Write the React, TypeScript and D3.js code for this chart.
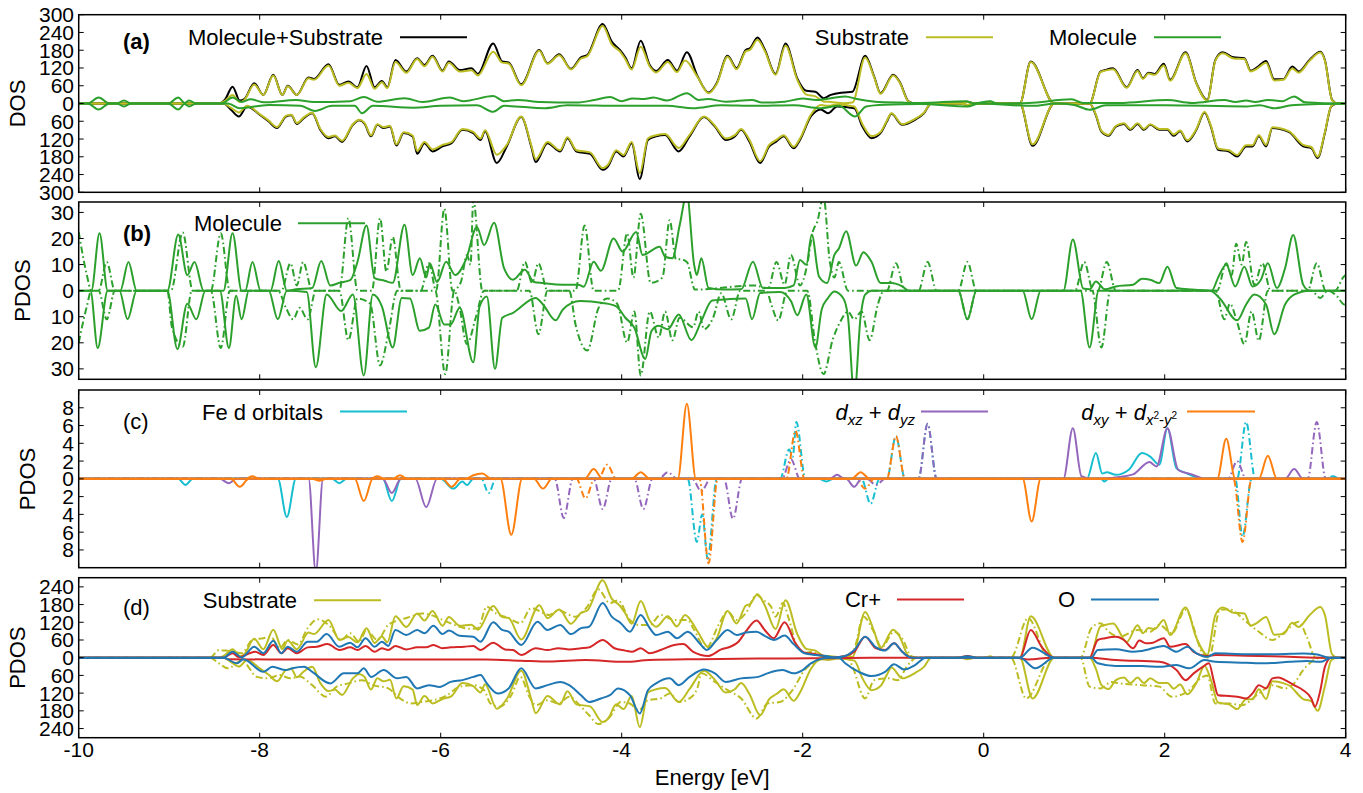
import React from 'react';
import * as d3 from 'd3';

type Pt = [number, number];

// ---- axis ticks ----
const energyTicks = [-10, -8, -6, -4, -2, 0, 2, 4];
const ticksA = [-300, -240, -180, -120, -60, 0, 60, 120, 180, 240, 300];
const ticksB = [-30, -20, -10, 0, 10, 20, 30];
const ticksC = [-8, -6, -4, -2, 0, 2, 4, 6, 8];
const ticksD = [-240, -180, -120, -60, 0, 60, 120, 180, 240];

// ---- panel (a): total / substrate / molecule DOS (spin down stored as magnitudes) ----
const totUp: Pt[] = [[-10,0],[-8.45,0],[-8.38,15],[-8.30,57],[-8.22,10],[-8.17,15],[-8.06,68],[-7.96,29],[-7.85,97],[-7.75,29],[-7.69,60],[-7.59,29],[-7.46,88],[-7.40,83],[-7.24,133],[-7.12,63],[-7.02,74],[-6.92,55],[-6.82,127],[-6.73,55],[-6.65,76],[-6.59,55],[-6.50,147],[-6.38,108],[-6.26,153],[-6.18,130],[-6.09,161],[-5.98,111],[-5.91,142],[-5.79,113],[-5.66,119],[-5.59,100],[-5.42,203],[-5.32,142],[-5.25,139],[-5.11,65],[-4.91,181],[-4.82,136],[-4.69,166],[-4.56,117],[-4.45,156],[-4.38,164],[-4.21,269],[-4.11,209],[-4.02,181],[-3.96,156],[-3.89,119],[-3.79,212],[-3.69,130],[-3.62,110],[-3.49,147],[-3.39,111],[-3.28,173],[-3.16,91],[-3.04,37],[-2.95,69],[-2.83,161],[-2.73,119],[-2.63,181],[-2.58,187],[-2.50,223],[-2.42,183],[-2.30,100],[-2.19,203],[-2.06,85],[-1.96,43],[-1.86,40],[-1.77,18],[-1.69,29],[-1.55,37],[-1.45,40],[-1.31,161],[-1.21,91],[-1.14,35],[-1.0,97],[-0.93,74],[-0.83,7],[-0.76,0],[-0.25,0],[-0.18,6],[-0.1,0],[0.02,0],[0.07,6],[0.12,0],[0.40,0],[0.52,142],[0.78,0],[1.17,0],[1.29,108],[1.34,113],[1.43,119],[1.58,55],[1.70,113],[1.76,85],[1.82,104],[1.89,100],[1.99,134],[2.06,80],[2.23,173],[2.35,69],[2.47,12],[2.56,147],[2.64,173],[2.76,156],[2.88,153],[2.95,111],[3.02,122],[3.12,144],[3.21,82],[3.31,82],[3.41,125],[3.48,108],[3.60,147],[3.72,175],[3.77,147],[3.85,12],[3.91,0],[4,0]];
const totDn: Pt[] = [[-10,0],[-8.40,0],[-8.32,20],[-8.23,44],[-8.14,10],[-8.0,38],[-7.9,61],[-7.81,83],[-7.71,44],[-7.65,40],[-7.59,69],[-7.51,49],[-7.42,33],[-7.33,89],[-7.24,117],[-7.17,111],[-7.09,130],[-6.97,72],[-6.90,57],[-6.84,69],[-6.77,111],[-6.70,72],[-6.63,83],[-6.56,78],[-6.49,142],[-6.41,100],[-6.31,111],[-6.26,170],[-6.18,134],[-6.09,162],[-5.98,145],[-5.88,134],[-5.76,89],[-5.64,100],[-5.56,123],[-5.51,94],[-5.38,201],[-5.27,145],[-5.11,46],[-5.0,145],[-4.95,198],[-4.82,134],[-4.68,162],[-4.60,117],[-4.50,162],[-4.35,170],[-4.21,224],[-4.15,212],[-4.06,162],[-3.98,179],[-3.89,134],[-3.80,255],[-3.71,123],[-3.62,111],[-3.52,106],[-3.37,162],[-3.25,111],[-3.09,46],[-2.97,78],[-2.85,123],[-2.75,111],[-2.68,89],[-2.59,128],[-2.47,201],[-2.37,145],[-2.29,128],[-2.21,111],[-2.1,151],[-2.03,123],[-1.91,44],[-1.80,20],[-1.72,33],[-1.62,10],[-1.43,16],[-1.34,78],[-1.24,117],[-1.14,100],[-1.07,61],[-1.02,35],[-0.90,72],[-0.76,55],[-0.66,33],[-0.58,0],[-0.25,0],[-0.18,6],[-0.1,0],[0.40,0],[0.54,143],[0.78,0],[1.17,0],[1.24,40],[1.30,95],[1.38,109],[1.46,78],[1.55,69],[1.62,89],[1.70,69],[1.77,89],[1.84,72],[1.94,89],[2.03,89],[2.10,109],[2.17,94],[2.25,128],[2.35,89],[2.44,30],[2.51,78],[2.59,156],[2.71,162],[2.80,179],[2.90,145],[2.97,145],[3.04,111],[3.12,145],[3.19,83],[3.31,89],[3.38,98],[3.53,145],[3.62,151],[3.69,184],[3.77,100],[3.84,10],[3.91,0],[4,0]];
const subUp: Pt[] = [[-10,0],[-8.45,0],[-8.38,10],[-8.30,29],[-8.22,5],[-8.17,12],[-8.06,64],[-7.96,29],[-7.85,95],[-7.75,29],[-7.69,58],[-7.59,29],[-7.46,85],[-7.40,80],[-7.24,128],[-7.12,60],[-7.02,70],[-6.92,52],[-6.82,100],[-6.73,50],[-6.65,72],[-6.59,52],[-6.50,140],[-6.38,104],[-6.26,150],[-6.18,126],[-6.09,158],[-5.98,108],[-5.91,138],[-5.79,108],[-5.66,112],[-5.59,95],[-5.42,175],[-5.32,138],[-5.25,135],[-5.11,62],[-4.91,178],[-4.82,134],[-4.69,163],[-4.56,115],[-4.45,152],[-4.38,160],[-4.21,262],[-4.11,200],[-4.02,176],[-3.96,150],[-3.89,115],[-3.79,192],[-3.69,125],[-3.62,105],[-3.49,140],[-3.39,106],[-3.30,145],[-3.16,88],[-3.04,35],[-2.95,66],[-2.83,158],[-2.73,116],[-2.63,176],[-2.58,182],[-2.50,215],[-2.42,178],[-2.30,97],[-2.19,195],[-2.06,80],[-1.96,30],[-1.86,24],[-1.77,7],[-1.69,5],[-1.55,1],[-1.45,3],[-1.31,155],[-1.21,88],[-1.14,33],[-1.0,95],[-0.93,72],[-0.83,6],[-0.76,0],[-0.25,0],[-0.18,5],[-0.1,0],[0.02,0],[0.07,5],[0.12,0],[0.40,0],[0.52,140],[0.78,0],[1.17,0],[1.29,106],[1.34,111],[1.43,116],[1.58,53],[1.70,110],[1.76,83],[1.82,101],[1.89,97],[1.99,128],[2.06,77],[2.23,170],[2.35,67],[2.47,10],[2.56,145],[2.64,170],[2.76,152],[2.88,150],[2.95,108],[3.02,118],[3.12,138],[3.21,78],[3.31,80],[3.41,118],[3.48,104],[3.60,144],[3.72,172],[3.77,145],[3.85,11],[3.91,0],[4,0]];
const subDn: Pt[] = [[-10,0],[-8.40,0],[-8.32,14],[-8.23,30],[-8.14,8],[-8.0,36],[-7.9,58],[-7.81,80],[-7.71,42],[-7.65,38],[-7.59,66],[-7.51,46],[-7.42,31],[-7.33,86],[-7.24,113],[-7.17,108],[-7.09,126],[-6.97,70],[-6.90,55],[-6.84,66],[-6.77,108],[-6.70,70],[-6.63,80],[-6.56,75],[-6.49,138],[-6.41,97],[-6.31,108],[-6.26,160],[-6.18,130],[-6.09,155],[-5.98,140],[-5.88,130],[-5.76,86],[-5.64,96],[-5.56,118],[-5.51,90],[-5.38,173],[-5.27,140],[-5.11,44],[-5.0,140],[-4.95,188],[-4.82,130],[-4.68,158],[-4.60,114],[-4.50,158],[-4.35,165],[-4.21,218],[-4.15,206],[-4.06,158],[-3.98,174],[-3.89,130],[-3.80,235],[-3.71,118],[-3.62,107],[-3.52,103],[-3.37,150],[-3.25,106],[-3.09,44],[-2.97,75],[-2.85,118],[-2.75,107],[-2.68,86],[-2.59,122],[-2.47,195],[-2.37,140],[-2.29,123],[-2.21,107],[-2.1,146],[-2.03,118],[-1.91,38],[-1.80,5],[-1.72,8],[-1.62,3],[-1.43,10],[-1.34,70],[-1.24,110],[-1.14,96],[-1.07,58],[-1.02,33],[-0.90,70],[-0.76,52],[-0.66,31],[-0.58,0],[-0.25,0],[-0.18,5],[-0.1,0],[0.40,0],[0.54,138],[0.78,0],[1.17,0],[1.24,38],[1.30,92],[1.38,106],[1.46,76],[1.55,67],[1.62,86],[1.70,67],[1.77,86],[1.84,70],[1.94,86],[2.03,86],[2.10,105],[2.17,91],[2.25,124],[2.35,86],[2.44,28],[2.51,75],[2.59,152],[2.71,158],[2.80,174],[2.90,141],[2.97,141],[3.04,107],[3.12,140],[3.19,80],[3.31,86],[3.38,95],[3.53,140],[3.62,147],[3.69,180],[3.77,97],[3.84,9],[3.91,0],[4,0]];
const molUp: Pt[] = [[-10,0],[-9.90,0],[-9.78,20],[-9.66,0],[-9.58,0],[-9.5,10],[-9.42,0],[-9.01,0],[-8.9,20],[-8.83,2],[-8.78,10],[-8.70,0],[-8.42,0],[-8.3,20],[-8.2,5],[-8.1,14],[-7.95,4],[-7.6,12],[-7.4,5],[-7.0,8],[-6.85,22],[-6.7,6],[-6.4,18],[-6.2,5],[-5.9,20],[-5.75,8],[-5.42,25],[-5.3,8],[-5.15,12],[-4.9,5],[-4.5,3],[-4.3,12],[-4.13,22],[-4.0,8],[-3.88,17],[-3.75,15],[-3.65,20],[-3.5,10],[-3.28,35],[-3.15,12],[-3.05,15],[-2.85,6],[-2.56,12],[-2.45,3],[-2.2,6],[-2.0,17],[-1.85,12],[-1.53,24],[-1.40,15],[-1.2,6],[-0.9,3],[-0.7,2],[-0.2,8],[-0.1,0],[0.07,8],[0.15,0],[0.5,2],[0.97,14],[1.1,2],[1.5,2],[2.03,12],[2.3,2],[2.66,12],[2.78,5],[2.90,10],[3.0,5],[3.14,12],[3.3,8],[3.43,24],[3.55,4],[3.7,2],[4,0]];
const molDn: Pt[] = [[-10,0],[-9.90,0],[-9.78,20],[-9.66,0],[-9.58,0],[-9.5,10],[-9.42,0],[-9.01,0],[-8.9,20],[-8.83,2],[-8.78,10],[-8.70,0],[-8.35,0],[-8.22,16],[-7.9,5],[-7.55,8],[-7.39,25],[-7.2,8],[-6.95,8],[-6.87,33],[-6.75,8],[-6.3,14],[-6.0,8],[-5.6,6],[-5.42,28],[-5.3,8],[-4.85,16],[-4.6,6],[-4.0,8],[-3.5,8],[-3.21,16],[-2.9,6],[-2.54,8],[-2.1,6],[-1.8,16],[-1.6,8],[-1.42,44],[-1.30,10],[-1.1,4],[-0.7,2],[-0.18,10],[-0.05,0],[0.54,8],[0.8,0],[1.0,5],[1.17,21],[1.35,6],[2.0,6],[2.9,10],[3.05,6],[3.21,16],[3.4,6],[3.7,2],[4,0]];

// ---- panel (b): molecule PDOS, solid and dash-dot ----
const bSolUp: Pt[] = [[-10,0],[-9.86,0],[-9.77,22],[-9.68,0],[-9.54,0],[-9.45,11],[-9.36,0],[-9.02,0],[-8.90,21.5],[-8.80,6],[-8.72,11],[-8.62,0],[-8.40,0],[-8.30,22],[-8.20,0],[-8.16,0],[-8.08,11],[-7.99,0],[-7.88,0],[-7.79,11.4],[-7.70,0],[-7.6,0.5],[-7.42,1],[-7.32,11.4],[-7.22,2],[-7.12,3],[-7.0,4],[-6.92,11],[-6.82,25],[-6.73,4.8],[-6.62,3.8],[-6.53,3],[-6.40,25.3],[-6.31,6],[-6.23,12.4],[-6.16,5],[-6.12,10.5],[-6.04,3.3],[-5.94,11.1],[-5.84,6],[-5.72,12],[-5.60,24.4],[-5.52,17.5],[-5.41,26],[-5.30,8.6],[-5.20,4.2],[-5.07,8],[-4.97,3.3],[-4.87,2.9],[-4.65,2.3],[-4.48,2.3],[-4.42,1.5],[-4.31,11.1],[-4.23,7.6],[-4.09,20],[-3.99,15],[-3.84,22.5],[-3.77,13.7],[-3.58,16.8],[-3.52,13],[-3.44,12.4],[-3.36,25],[-3.28,37],[-3.20,10],[-3.17,6],[-3.12,12.4],[-3.04,1],[-2.87,0.4],[-2.68,0.5],[-2.55,11.1],[-2.44,1],[-2.20,1],[-2.10,2],[-2.03,11.8],[-1.96,9.9],[-1.90,21.5],[-1.82,5.4],[-1.73,2.9],[-1.65,13.7],[-1.60,16.2],[-1.52,22.8],[-1.41,9.6],[-1.33,14.7],[-1.24,11.1],[-1.14,2.9],[-1.02,2.9],[-0.90,1.6],[-0.83,0],[0.88,0],[0.985,19.6],[1.1,0.8],[1.17,0.5],[1.24,3.5],[1.34,0.5],[1.46,1.6],[1.65,2.3],[1.75,4.6],[1.84,4.2],[1.94,2.9],[2.03,9.2],[2.13,1],[2.3,0.4],[2.52,0],[2.59,5],[2.68,9.9],[2.78,1.6],[2.88,9.2],[2.97,1.6],[3.06,4],[3.14,10.5],[3.24,1],[3.33,8.6],[3.42,21.3],[3.53,2.3],[3.60,0],[4,0]];
const bSolDn: Pt[] = [[-10,0],[-9.87,0],[-9.79,22],[-9.68,0],[-9.55,0],[-9.46,11],[-9.36,0],[-9.02,0],[-8.91,22.4],[-8.80,5],[-8.70,11],[-8.60,0],[-8.44,0],[-8.34,22],[-8.26,2],[-8.20,11],[-8.12,0],[-7.90,0],[-7.80,11],[-7.70,0],[-7.48,0.5],[-7.38,29.4],[-7.26,1.5],[-7.10,7.8],[-6.97,1.5],[-6.85,32.5],[-6.75,1.5],[-6.65,6],[-6.53,21.8],[-6.43,2.8],[-6.34,3],[-6.23,15.4],[-6.13,14.2],[-6.06,5.3],[-5.96,13],[-5.89,13],[-5.79,6.6],[-5.64,27.5],[-5.57,6],[-5.49,2.2],[-5.40,30],[-5.32,10.4],[-5.20,8.5],[-4.95,2.8],[-4.87,5.3],[-4.73,11.4],[-4.65,7.2],[-4.46,4],[-4.21,4.7],[-4.06,6],[-3.96,10.4],[-3.86,14.2],[-3.74,26.2],[-3.67,15.4],[-3.59,13.5],[-3.49,14.8],[-3.37,9.1],[-3.23,19],[-3.12,11.6],[-3.0,3.8],[-2.87,3.4],[-2.63,3],[-2.56,11],[-2.47,0.9],[-2.25,0.5],[-2.13,4],[-2.06,9.4],[-1.96,1.5],[-1.86,21.8],[-1.79,7.2],[-1.72,2.8],[-1.65,0.3],[-1.55,3],[-1.50,10],[-1.43,40],[-1.36,10],[-1.31,1.5],[-1.24,0],[-0.28,0],[-0.18,11],[-0.08,0],[0.43,0],[0.53,11],[0.63,0],[1.07,0],[1.17,21.8],[1.27,0],[2.50,0],[2.61,3],[2.80,11.4],[2.90,5.3],[2.99,1.5],[3.12,5.3],[3.21,16.7],[3.33,5.3],[3.43,1.5],[3.60,0],[4,0]];
const bDashUp: Pt[] = [[-10,22.5],[-9.91,6],[-9.86,0],[-9.78,0],[-9.69,11],[-9.60,0],[-8.98,0],[-8.85,22.3],[-8.74,0],[-8.54,0],[-8.43,22],[-8.33,0],[-7.76,0],[-7.66,10.5],[-7.59,2],[-7.52,11],[-7.42,0],[-7.12,0],[-7.02,27.8],[-6.92,0],[-6.76,0],[-6.67,27.8],[-6.60,7.3],[-6.53,20.6],[-6.44,0],[-6.22,0],[-6.13,10.5],[-6.05,0],[-5.96,31.4],[-5.87,0],[-5.78,3],[-5.71,13.7],[-5.67,10],[-5.64,35],[-5.54,0],[-5.16,0],[-5.07,11],[-4.99,3],[-4.92,10.5],[-4.82,0],[-4.51,0],[-4.41,25],[-4.31,0],[-4.04,0],[-3.94,22],[-3.87,5],[-3.79,29.5],[-3.68,3],[-3.55,5],[-3.47,27],[-3.40,12],[-3.35,12],[-3.28,11],[-3.19,0.4],[-2.54,2],[-2.38,1],[-2.29,11],[-2.20,2.3],[-2.13,13.7],[-2.03,2],[-1.95,10],[-1.89,22.5],[-1.84,26.3],[-1.77,36],[-1.70,11],[-1.65,5],[-1.60,11],[-1.50,0],[-1.07,0],[-0.97,10.5],[-0.87,0],[-0.72,0],[-0.62,11],[-0.52,0],[-0.28,0],[-0.18,11],[-0.08,0],[1.01,0],[1.11,11],[1.21,0],[1.26,0],[1.36,11],[1.46,0],[2.58,0],[2.68,10.5],[2.74,6],[2.79,18],[2.85,10],[2.90,18.7],[2.99,2.3],[3.08,10.5],[3.17,0],[3.58,0],[3.68,10.5],[3.78,0],[3.88,0],[3.98,5.4],[4,6]];
const bDashDn: Pt[] = [[-10,20],[-9.91,6],[-9.86,0],[-9.78,0],[-9.69,11],[-9.60,0],[-9.02,0],[-8.97,14],[-8.85,21.5],[-8.75,0],[-8.54,0],[-8.43,22],[-8.33,0],[-7.80,0],[-7.71,6.6],[-7.63,11],[-7.56,6.6],[-7.47,11],[-7.38,0],[-7.12,0],[-7.02,19],[-6.92,3],[-6.78,5],[-6.67,28.7],[-6.58,16.7],[-6.48,0],[-6.06,0],[-5.95,32],[-5.85,0],[-5.80,5],[-5.71,20.5],[-5.61,10],[-5.52,0],[-5.02,0],[-4.92,16.7],[-4.82,0],[-4.58,0],[-4.51,13],[-4.38,23],[-4.26,7],[-4.16,3],[-4.05,5],[-3.94,19.9],[-3.86,8],[-3.79,32.5],[-3.69,8],[-3.59,18],[-3.52,8],[-3.44,19],[-3.36,10.4],[-3.21,14],[-3.15,8],[-3.09,14.8],[-2.99,10.4],[-2.90,1],[-2.79,11],[-2.69,0],[-2.40,0],[-2.35,5],[-2.27,11.4],[-2.17,0],[-1.95,0],[-1.86,20.5],[-1.77,32],[-1.67,19],[-1.58,11.6],[-1.50,8],[-1.43,11],[-1.35,8],[-1.26,19],[-1.17,5.3],[-1.10,0],[-0.28,0],[-0.18,11],[-0.08,0],[1.20,0],[1.30,21.8],[1.40,0],[2.56,0],[2.66,11],[2.72,5],[2.80,12],[2.88,20.5],[2.96,8],[3.04,19.2],[3.14,0],[3.62,0],[3.72,2.8],[3.80,0],[3.90,2],[3.98,5.3],[4,5.5]];

// ---- panel (c): Fe d orbitals ----
const feUp: Pt[] = [[-10,0],[1.14,0],[1.24,2.9],[1.31,0.6],[1.36,0.75],[1.46,0.45],[1.6,1.0],[1.75,2.9],[1.84,2.5],[1.94,1.6],[2.03,5.7],[2.13,1.2],[2.25,0.6],[2.42,0],[4,0]];
const feDn: Pt[] = [[-10,0],[-8.9,0],[-8.82,0.7],[-8.74,0],[-7.80,0],[-7.70,4.3],[-7.60,0],[-7.2,0],[-7.12,0.5],[-7.04,0],[-6.64,0],[-6.54,2.5],[-6.44,0],[-6.0,0],[-5.86,1.1],[-5.76,0.3],[-5.71,0.7],[-5.64,0],[-1.82,0],[-1.74,0.3],[-1.66,0],[1.30,0],[1.33,0.3],[1.38,0],[4,0]];
const xzUp: Pt[] = [[-10,0],[-1.70,0],[-1.62,0.45],[-1.54,0],[0.88,0],[0.985,5.7],[1.08,0.3],[1.2,0],[1.4,0.1],[1.65,0.5],[1.83,1.9],[1.91,1.4],[2.03,5.7],[2.15,1.0],[2.30,0.5],[2.45,0],[3.33,0],[3.43,1.1],[3.53,0],[4,0]];
const xzDn: Pt[] = [[-10,0],[-8.44,0],[-8.34,0.5],[-8.26,0],[-7.46,0],[-7.38,10.5],[-7.30,0],[-6.64,0],[-6.54,1.6],[-6.44,0],[-6.28,0],[-6.16,3.2],[-6.04,0],[-1.52,0],[-1.43,0.9],[-1.35,0],[4,0]];
const xyUp: Pt[] = [[-10,0],[-8.16,0],[-8.08,0.3],[-8.0,0],[-6.78,0],[-6.70,0.3],[-6.62,0],[-6.53,0],[-6.45,0.4],[-6.37,0],[-5.72,0],[-5.64,0.4],[-5.54,0.6],[-5.44,0],[-4.41,0],[-4.31,1.1],[-4.21,0],[-3.89,0],[-3.79,0.75],[-3.69,0],[-3.38,0],[-3.28,8.45],[-3.18,0],[-1.46,0],[-1.36,0.75],[-1.26,0],[2.58,0],[2.68,4.5],[2.78,0],[3.04,0],[3.14,2.6],[3.24,0],[4,0]];
const xyDn: Pt[] = [[-10,0],[-8.32,0],[-8.22,0.9],[-8.12,0],[-7.42,0],[-7.34,0.2],[-7.26,0],[-6.95,0],[-6.85,2.5],[-6.75,0],[-5.98,0],[-5.88,0.9],[-5.78,0],[-5.34,0],[-5.22,6.3],[-5.10,0],[-4.97,0],[-4.87,1.1],[-4.77,0],[0.43,0],[0.53,4.8],[0.63,0],[4,0]];
const feDashUp: Pt[] = [[-10,0],[-2.25,0],[-2.15,3.3],[-2.11,2.5],[-2.07,6.4],[-1.97,0],[-1.07,0],[-0.97,4.8],[-0.87,0],[-0.72,0],[-0.62,6.2],[-0.52,0],[2.80,0],[2.90,6.4],[3.0,0],[3.78,0],[3.86,0.3],[3.94,0],[4,0]];
const feDashDn: Pt[] = [[-10,0],[-5.55,0],[-5.47,1.6],[-5.39,0],[-3.27,0],[-3.17,7.1],[-3.11,4],[-3.05,9],[-2.95,0],[-1.35,0],[-1.25,2.8],[-1.15,0],[2.78,0],[2.86,6.5],[2.96,0],[4,0]];
const xzDashUp: Pt[] = [[-10,0],[-3.59,0],[-3.49,0.75],[-3.39,0],[-2.23,0],[-2.13,2.2],[-2.03,0],[-0.72,0],[-0.62,6.2],[-0.52,0],[2.70,0],[2.80,2.0],[2.90,0],[3.58,0],[3.68,6.4],[3.78,0],[4,0]];
const xzDashDn: Pt[] = [[-10,0],[-4.74,0],[-4.64,4.4],[-4.54,0],[-4.31,0],[-4.21,3.4],[-4.11,0],[-3.86,0],[-3.76,3.4],[-3.66,0],[-3.22,0],[-3.12,1.4],[-3.02,0],[-2.87,0],[-2.77,4.5],[-2.67,0],[-1.29,0],[-1.19,0.7],[-1.09,0],[4,0]];
const xyDashUp: Pt[] = [[-10,0],[-4.26,0],[-4.16,1.6],[-4.06,0],[-2.18,0],[-2.08,5.4],[-1.98,0],[-1.07,0],[-0.97,4.8],[-0.87,0],[4,0]];
const xyDashDn: Pt[] = [[-10,0],[-4.50,0],[-4.40,2.2],[-4.30,0],[-3.14,0],[-3.04,9.5],[-2.94,0],[-1.41,0],[-1.31,1.1],[-1.21,0],[2.76,0],[2.86,7.1],[2.96,0],[4,0]];

// ---- panel (d): substrate (solid = subUp/subDn), substrate dash-dot, Cr+, O ----
const sDashUp: Pt[] = [[-10,0],[-8.55,0],[-8.45,26],[-8.37,24],[-8.28,20],[-8.2,15],[-8.08,60],[-7.96,66],[-7.88,71],[-7.78,32],[-7.69,60],[-7.58,45],[-7.47,100],[-7.36,130],[-7.22,105],[-7.10,60],[-7.0,83],[-6.90,54],[-6.82,94],[-6.70,60],[-6.58,111],[-6.45,128],[-6.33,139],[-6.21,150],[-6.11,145],[-5.98,128],[-5.79,105],[-5.69,98],[-5.59,100],[-5.49,173],[-5.39,150],[-5.25,134],[-5.12,117],[-5.0,168],[-4.80,145],[-4.70,160],[-4.51,139],[-4.38,173],[-4.26,232],[-4.13,185],[-4.04,194],[-3.91,128],[-3.81,111],[-3.69,111],[-3.57,145],[-3.42,128],[-3.27,128],[-3.21,100],[-3.07,32],[-2.92,117],[-2.83,156],[-2.73,128],[-2.63,150],[-2.51,213],[-2.44,196],[-2.35,173],[-2.30,139],[-2.22,185],[-2.15,128],[-2.06,37],[-1.96,17],[-1.89,20],[-1.81,6],[-1.72,0],[-1.53,1],[-1.43,30],[-1.33,139],[-1.21,85],[-1.13,35],[-0.99,88],[-0.90,65],[-0.80,5],[-0.74,0],[0.30,0],[0.49,134],[0.72,0],[1.07,0],[1.19,100],[1.29,117],[1.38,88],[1.50,71],[1.70,94],[1.84,88],[1.94,111],[2.08,83],[2.23,162],[2.42,15],[2.49,0],[2.61,162],[2.71,164],[2.90,122],[3.04,88],[3.19,60],[3.33,88],[3.48,122],[3.57,71],[3.67,0],[4,0]];
const sDashDn: Pt[] = [[-10,0],[-8.55,0],[-8.45,19],[-8.35,36],[-8.2,10],[-8.03,65],[-7.91,70],[-7.78,59],[-7.66,70],[-7.56,64],[-7.42,93],[-7.27,132],[-7.15,98],[-7.02,87],[-6.87,76],[-6.75,93],[-6.58,104],[-6.45,138],[-6.33,155],[-6.21,150],[-6.08,144],[-5.93,127],[-5.79,98],[-5.64,93],[-5.52,110],[-5.45,155],[-5.35,166],[-5.22,127],[-5.12,65],[-5.02,132],[-4.95,161],[-4.82,144],[-4.70,155],[-4.58,132],[-4.45,166],[-4.36,195],[-4.26,225],[-4.13,200],[-4.01,150],[-3.91,155],[-3.81,178],[-3.71,144],[-3.57,138],[-3.47,121],[-3.37,150],[-3.25,138],[-3.16,100],[-3.12,53],[-2.97,82],[-2.83,110],[-2.68,138],[-2.51,206],[-2.39,155],[-2.25,150],[-2.10,104],[-1.98,42],[-1.86,14],[-1.72,0],[-1.50,0],[-1.45,30],[-1.31,138],[-1.21,76],[-1.05,70],[-0.95,76],[-0.85,30],[-0.74,0],[0.30,0],[0.47,138],[0.71,8],[0.74,0],[1.07,0],[1.17,98],[1.29,104],[1.41,82],[1.50,87],[1.75,93],[1.94,98],[2.08,132],[2.25,115],[2.42,65],[2.47,60],[2.56,155],[2.71,155],[2.85,161],[3.04,121],[3.19,93],[3.33,104],[3.43,87],[3.53,42],[3.62,14],[3.72,0],[4,0]];
const crUp: Pt[] = [[-10,0],[-8.40,0],[-8.30,15],[-8.23,2],[-8.05,20],[-7.96,9],[-7.85,43],[-7.76,15],[-7.69,32],[-7.59,15],[-7.47,35],[-7.37,37],[-7.25,46],[-7.12,26],[-7.0,35],[-6.92,26],[-6.83,40],[-6.73,20],[-6.65,32],[-6.58,26],[-6.50,40],[-6.38,28],[-6.26,35],[-6.16,35],[-6.08,43],[-5.98,32],[-5.89,35],[-5.74,37],[-5.64,40],[-5.56,26],[-5.42,51],[-5.29,28],[-5.20,26],[-5.11,9],[-4.95,32],[-4.82,26],[-4.70,32],[-4.58,28],[-4.45,32],[-4.36,35],[-4.21,60],[-4.08,32],[-3.96,24],[-3.89,20],[-3.79,32],[-3.69,15],[-3.57,26],[-3.42,43],[-3.32,46],[-3.21,20],[-3.04,6],[-2.90,28],[-2.80,37],[-2.71,54],[-2.63,88],[-2.51,126],[-2.42,94],[-2.32,66],[-2.20,120],[-2.08,49],[-1.98,17],[-1.86,12],[-1.77,6],[-1.67,1],[-1.53,6],[-1.43,20],[-1.31,71],[-1.19,32],[-1.09,26],[-0.99,49],[-0.90,20],[-0.81,1],[-0.76,0],[-0.28,0],[-0.18,6],[-0.08,0],[0.40,0],[0.52,94],[0.64,37],[0.78,0],[1.17,0],[1.26,60],[1.34,66],[1.46,71],[1.55,60],[1.65,32],[1.72,58],[1.79,49],[1.87,51],[1.99,66],[2.06,37],[2.23,46],[2.32,20],[2.47,6],[2.56,9],[2.90,7],[3.38,3],[3.77,0],[4,0]];
const crDn: Pt[] = [[-10,0],[-8.40,0],[-8.35,5],[-7.9,6],[-5.5,6],[-5.11,10],[-4.8,13],[-4.4,8],[-3.96,14],[-3.7,8],[-3.13,5],[-2.5,3],[-1.9,2],[-1.5,1],[-0.7,0],[0.35,0],[0.49,6],[0.75,0],[1.17,0],[1.46,8],[1.94,14],[2.13,42],[2.23,76],[2.32,53],[2.42,31],[2.49,19],[2.54,76],[2.59,127],[2.71,130],[2.80,132],[2.90,138],[2.97,121],[3.04,93],[3.12,104],[3.19,70],[3.26,67],[3.33,76],[3.43,93],[3.53,110],[3.62,138],[3.66,166],[3.72,110],[3.77,31],[3.84,0],[4,0]];
const oUp: Pt[] = [[-10,0],[-8.40,0],[-8.30,20],[-8.20,1],[-8.06,37],[-7.96,15],[-7.85,57],[-7.76,15],[-7.69,37],[-7.59,20],[-7.47,54],[-7.37,54],[-7.26,80],[-7.12,37],[-7.0,51],[-6.92,35],[-6.83,66],[-6.73,37],[-6.65,54],[-6.58,40],[-6.50,94],[-6.38,77],[-6.26,94],[-6.18,83],[-6.08,108],[-5.98,80],[-5.91,92],[-5.79,74],[-5.64,71],[-5.56,54],[-5.42,120],[-5.32,94],[-5.25,88],[-5.11,43],[-4.93,122],[-4.82,94],[-4.68,111],[-4.56,80],[-4.45,100],[-4.36,105],[-4.21,185],[-4.11,139],[-4.01,117],[-3.91,88],[-3.79,145],[-3.69,100],[-3.62,77],[-3.49,88],[-3.39,66],[-3.27,88],[-3.14,49],[-3.06,26],[-2.95,60],[-2.83,94],[-2.73,77],[-2.63,85],[-2.51,88],[-2.42,74],[-2.32,60],[-2.20,75],[-2.10,46],[-1.98,15],[-1.86,9],[-1.74,6],[-1.65,1],[-1.53,6],[-1.43,26],[-1.31,71],[-1.19,35],[-1.09,24],[-0.99,49],[-0.90,20],[-0.81,1],[-0.76,0],[-0.28,0],[-0.18,5],[-0.08,0],[0.40,0],[0.54,34],[0.78,0],[1.19,0],[1.26,26],[1.46,29],[1.65,20],[1.75,23],[1.99,40],[2.13,20],[2.25,37],[2.35,15],[2.47,3],[2.56,15],[2.90,12],[3.24,12],[3.53,14],[3.67,12],[3.82,0],[4,0]];
const oDn: Pt[] = [[-10,0],[-8.40,0],[-8.25,19],[-8.18,5],[-7.96,48],[-7.86,31],[-7.71,42],[-7.64,36],[-7.51,31],[-7.42,48],[-7.22,87],[-7.07,53],[-6.92,53],[-6.85,36],[-6.77,65],[-6.63,42],[-6.48,70],[-6.38,65],[-6.26,104],[-6.13,93],[-6.01,99],[-5.89,82],[-5.76,76],[-5.64,65],[-5.56,59],[-5.49,87],[-5.37,121],[-5.25,104],[-5.11,36],[-4.95,104],[-4.82,93],[-4.68,82],[-4.58,93],[-4.45,127],[-4.36,150],[-4.23,138],[-4.13,127],[-4.04,104],[-3.91,127],[-3.80,189],[-3.71,110],[-3.62,87],[-3.47,70],[-3.37,93],[-3.25,65],[-3.09,40],[-2.97,53],[-2.85,82],[-2.68,70],[-2.49,65],[-2.39,53],[-2.22,42],[-2.10,53],[-2.0,42],[-1.91,19],[-1.77,2],[-1.70,0],[-1.60,0],[-1.53,19],[-1.38,48],[-1.24,62],[-1.09,48],[-0.99,22],[-0.88,40],[-0.76,25],[-0.64,0],[0.40,0],[0.57,36],[0.78,0],[1.19,0],[1.26,19],[1.46,28],[1.75,28],[1.94,31],[2.13,25],[2.27,36],[2.44,8],[2.56,14],[2.90,17],[3.09,19],[3.38,14],[3.57,11],[3.72,14],[3.84,0],[4,0]];

// ---- layout ----
const W = 1363;
const H = 793;
const X0 = 78.7;
const X1 = 1345.7;
const FONT = '"Liberation Sans", Arial, Helvetica, sans-serif';

const C = {
  black: '#000000',
  olive: '#bcbd22',
  green: '#2ca02c',
  cyan: '#17becf',
  purple: '#9467bd',
  orange: '#ff7f0e',
  red: '#d62728',
  blue: '#1f77b4',
};
const DASHDOT = '7,3,1.6,3';

interface Series { data: Pt[]; sign: number; color: string; dash?: boolean }
interface PanelDef { id: string; top: number; bottom: number; max: number; ticks: number[]; series: Series[] }

const s = (data: Pt[], sign: number, color: string, dash = false): Series => ({ data, sign, color, dash });

const panels: PanelDef[] = [
  { id: 'a', top: 14.7, bottom: 192.3, max: 300, ticks: ticksA, series: [
    s(totUp, 1, C.black), s(totDn, -1, C.black),
    s(subUp, 1, C.olive), s(subDn, -1, C.olive),
    s(molUp, 1, C.green), s(molDn, -1, C.green),
  ] },
  { id: 'b', top: 202, bottom: 379.3, max: 34, ticks: ticksB, series: [
    s(bDashUp, 1, C.green, true), s(bDashDn, -1, C.green, true),
    s(bSolUp, 1, C.green), s(bSolDn, -1, C.green),
  ] },
  { id: 'c', top: 390, bottom: 567.7, max: 10, ticks: ticksC, series: [
    s(feDashUp, 1, C.cyan, true), s(feDashDn, -1, C.cyan, true),
    s(xzDashUp, 1, C.purple, true), s(xzDashDn, -1, C.purple, true),
    s(xyDashUp, 1, C.orange, true), s(xyDashDn, -1, C.orange, true),
    s(feUp, 1, C.cyan), s(feDn, -1, C.cyan),
    s(xzUp, 1, C.purple), s(xzDn, -1, C.purple),
    s(xyUp, 1, C.orange), s(xyDn, -1, C.orange),
  ] },
  { id: 'd', top: 577.7, bottom: 737.7, max: 271, ticks: ticksD, series: [
    s(sDashUp, 1, C.olive, true), s(sDashDn, -1, C.olive, true),
    s(subUp, 1, C.olive), s(subDn, -1, C.olive),
    s(crUp, 1, C.red), s(crDn, -1, C.red),
    s(oUp, 1, C.blue), s(oDn, -1, C.blue),
  ] },
];

const x = d3.scaleLinear().domain([-10, 4]).range([X0, X1]);

function Panel({ p }: { p: PanelDef }) {
  const y = d3.scaleLinear().domain([-p.max, p.max]).range([p.bottom, p.top]);
  const clipId = `clip-${p.id}`;
  const line = (sr: Series) =>
    d3.line<Pt>()
      .x(d => x(d[0]))
      .y(d => y(sr.sign * d[1]))
      .curve(d3.curveMonotoneX)(sr.data) || '';
  const tk = 5;
  return (
    <g>
      <defs>
        <clipPath id={clipId}>
          <rect x={X0} y={p.top} width={X1 - X0} height={p.bottom - p.top} />
        </clipPath>
      </defs>
      <g clipPath={`url(#${clipId})`}>
        {p.series.map((sr, i) => (
          <path key={i} d={line(sr)} fill="none" stroke={sr.color} strokeWidth={2}
            strokeDasharray={sr.dash ? DASHDOT : undefined} strokeLinejoin="round" />
        ))}
      </g>
      {/* ticks on all four sides, pointing inward */}
      <g stroke="#000" strokeWidth={1}>
        {p.ticks.map(v => (
          <g key={v}>
            <line x1={X0} x2={X0 + tk} y1={y(v)} y2={y(v)} />
            <line x1={X1} x2={X1 - tk} y1={y(v)} y2={y(v)} />
          </g>
        ))}
        {energyTicks.map(v => (
          <g key={v}>
            <line x1={x(v)} x2={x(v)} y1={p.bottom} y2={p.bottom - tk} />
            <line x1={x(v)} x2={x(v)} y1={p.top} y2={p.top + tk} />
          </g>
        ))}
      </g>
      <g fontFamily={FONT} fontSize={21} textAnchor="end" fill="#000">
        {p.ticks.map(v => (
          <text key={v} x={74} y={y(v) + 7.5}>{Math.abs(v)}</text>
        ))}
      </g>
      <rect x={X0} y={p.top} width={X1 - X0} height={p.bottom - p.top} fill="none" stroke="#000" strokeWidth={1.5} />
    </g>
  );
}

function LegendLine({ x1, x2, y, color }: { x1: number; x2: number; y: number; color: string }) {
  return <line x1={x1} x2={x2} y1={y} y2={y} stroke={color} strokeWidth={2} />;
}

export default function App() {
  const sub = 15;
  return (
    <svg width={W} height={H} style={{ position: 'absolute', left: 0, top: 0, background: '#fff' }}>
      <rect width={W} height={H} fill="#fff" />
      {panels.map(p => <Panel key={p.id} p={p} />)}

      <g fontFamily={FONT} fontSize={22} fill="#000">
        {/* panel labels */}
        <text x={123} y={49} fontWeight="bold">(a)</text>
        <text x={123} y={241} fontWeight="bold">(b)</text>
        <text x={123} y={429}>(c)</text>
        <text x={123} y={615}>(d)</text>

        {/* panel (a) legend */}
        <text x={383} y={45} textAnchor="end">Molecule+Substrate</text>
        <LegendLine x1={400} x2={467} y={37.3} color={C.black} />
        <text x={909} y={45} textAnchor="end">Substrate</text>
        <LegendLine x1={926} x2={993} y={37.3} color={C.olive} />
        <text x={1137} y={45} textAnchor="end">Molecule</text>
        <LegendLine x1={1154} x2={1221} y={37.3} color={C.green} />

        {/* panel (b) legend */}
        <text x={282} y={231} textAnchor="end">Molecule</text>
        <LegendLine x1={298} x2={365} y={223.3} color={C.green} />

        {/* panel (c) legend */}
        <text x={323} y={419.5} textAnchor="end">Fe d orbitals</text>
        <LegendLine x1={340} x2={407} y={411.5} color={C.cyan} />
        <text x={915} y={419.5} textAnchor="end" fontStyle="italic">
          d<tspan dy={5} fontSize={sub}>xz</tspan>
          <tspan dy={-5} fontStyle="normal"> + </tspan>d<tspan dy={5} fontSize={sub}>yz</tspan>
        </text>
        <LegendLine x1={921} x2={988} y={411.5} color={C.purple} />
        <text x={1177} y={419.5} textAnchor="end" fontStyle="italic">
          d<tspan dy={5} fontSize={sub}>xy</tspan>
          <tspan dy={-5} fontStyle="normal"> + </tspan>d<tspan dy={5} fontSize={sub}>x</tspan>
          <tspan dy={-6} fontSize={10} fontStyle="normal">2</tspan>
          <tspan dy={6} fontSize={sub} fontStyle="normal">-</tspan>
          <tspan fontSize={sub}>y</tspan>
          <tspan dy={-6} fontSize={10} fontStyle="normal">2</tspan>
        </text>
        <LegendLine x1={1187} x2={1255} y={411.5} color={C.orange} />

        {/* panel (d) legend */}
        <text x={297} y={608} textAnchor="end">Substrate</text>
        <LegendLine x1={314} x2={381} y={600.3} color={C.olive} />
        <text x={881} y={607} textAnchor="end">Cr+</text>
        <LegendLine x1={897} x2={964} y={599.5} color={C.red} />
        <text x={1075} y={607} textAnchor="end">O</text>
        <LegendLine x1={1091} x2={1159} y={599.5} color={C.blue} />

        {/* energy tick labels */}
        {energyTicks.map(v => (
          <text key={v} x={x(v)} y={757} textAnchor="middle" fontSize={21}>{v}</text>
        ))}
        <text x={(X0 + X1) / 2} y={785} textAnchor="middle">Energy [eV]</text>

        {/* y axis titles */}
        <text transform="translate(25,103.5) rotate(-90)" textAnchor="middle">DOS</text>
        <text transform="translate(30,290.6) rotate(-90)" textAnchor="middle">PDOS</text>
        <text transform="translate(34.5,479) rotate(-90)" textAnchor="middle">PDOS</text>
        <text transform="translate(25,657.7) rotate(-90)" textAnchor="middle">PDOS</text>
      </g>
    </svg>
  );
}
